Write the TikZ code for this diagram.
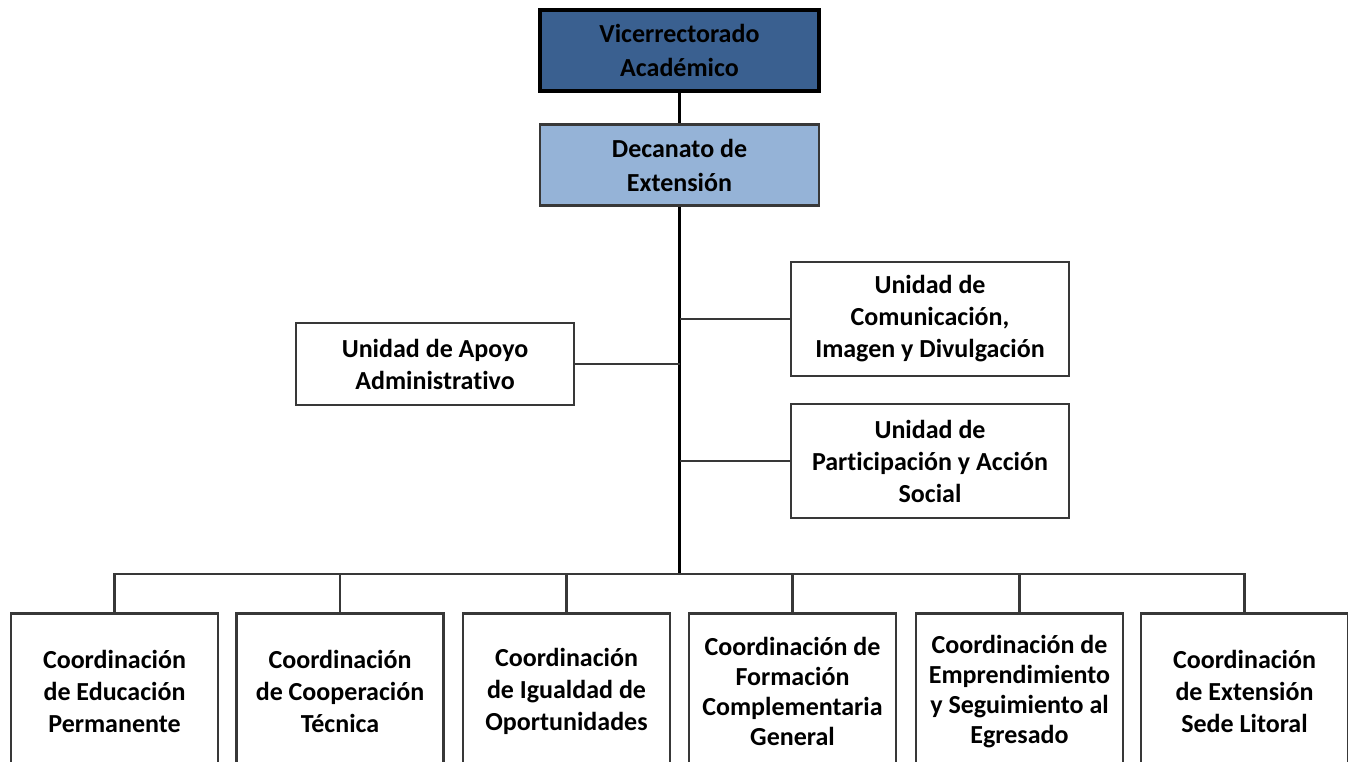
\documentclass[tikz,border=0pt]{standalone}
\usepackage{fontspec}
\setmainfont{Carlito}[Ligatures=NoCommon]
\usetikzlibrary{positioning, calc}
\definecolor{vice blue}{HTML}{3A6090}
\definecolor{decanato blue}{HTML}{95B3D7}
\colorlet{edge color}{black!78}
\tikzset{unit/.style={draw=edge color, line width=2pt, fill=white, align=center, font=\bfseries\fontsize{19.5}{24}\selectfont, inner sep=2pt}}
\tikzset{topunit/.style={unit, minimum width=209.25pt, minimum height=60.75pt}}
\tikzset{sideunit/.style={unit, minimum width=208.5pt, minimum height=85.5pt}}
\tikzset{coordunit/.style={unit, anchor=north, minimum width=155.25pt, minimum height=117pt}}
\tikzset{tight/.style={font=\bfseries\fontsize{19.5}{22.5}\selectfont}}
\tikzset{link/.style={draw=edge color, line width=2.2pt}}

\begin{document}
\begin{tikzpicture}[x=0.75pt, y=-0.75pt]
                \useasboundingbox (0, 0) rectangle (1348, 762);
                
                \node[topunit, draw=black, line width=3pt, fill=vice blue, font=\bfseries\fontsize{19.5}{25.5}\selectfont] (vice) at (679.5, 50.5) {Vicerrectorado\\Académico};
                \node[topunit, fill=decanato blue, font=\bfseries\fontsize{19.5}{25.5}\selectfont] (dec) at (679.5, 165) {Decanato de\\Extensión};
                
                \node[sideunit] (com) at (930, 319) {Unidad de\\Comunicación,\\Imagen y Divulgación};
                \node[sideunit] (par) at (930, 461) {Unidad de\\Participación y Acción\\Social};
                \node[sideunit, minimum height=61.5pt] (apo) at (435, 364) {Unidad de Apoyo\\Administrativo};
                
                \coordinate (bus) at (679.5, 574);
                
                \draw[link, draw=black] (vice) -- (dec);
                \draw[link, draw=black] (dec) -- (bus);
                \draw[link] (apo.east) -- (apo.east -| bus);
                \draw[link] (com.west) -- (com.west -| bus);
                \draw[link] (par.west) -- (par.west -| bus);
                
                \foreach \x/\n/\s/\t in {114.5/edu//{Coordinación\\de Educación\\Permanente},
                                      340/coo//{Coordinación\\de Cooperación\\Técnica},
                                      566.5/igu//{Coordinación\\de Igualdad de\\Oportunidades},
                                      792.5/for/tight/{Coordinación de\\Formación\\Complementaria\\General},
                                      1019.5/emp/tight/{Coordinación de\\Emprendimiento\\y Seguimiento al\\Egresado},
                                      1244.5/ext//{Coordinación\\de Extensión\\Sede Litoral}} {
                    \node[coordunit, \s] (\n) at (\x, 612) {\t};
                    \draw[link] (bus) -| (\n.north);
                }
            \end{tikzpicture}
\end{document}
